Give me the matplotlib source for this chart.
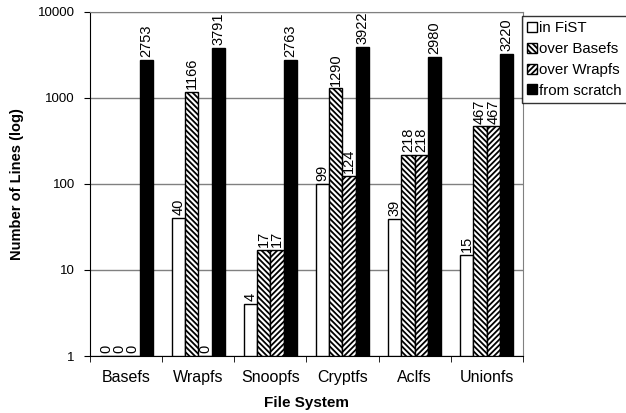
import numpy as np
import matplotlib.pyplot as plt

plt.rcParams['font.family'] = ['Liberation Sans', 'DejaVu Sans']
plt.rcParams['hatch.linewidth'] = 1.3

systems = ['Basefs', 'Wrapfs', 'Snoopfs', 'Cryptfs', 'Aclfs', 'Unionfs']
in_fist = [0, 40, 4, 99, 39, 15]
over_basefs = [0, 1166, 17, 1290, 218, 467]
over_wrapfs = [0, 0, 17, 124, 218, 467]
from_scratch = [2753, 3791, 2763, 3922, 2980, 3220]

series = [
    ('in FiST', in_fist, 'white', ''),
    ('over Basefs', over_basefs, 'white', '\\' * 6),
    ('over Wrapfs', over_wrapfs, 'white', '/' * 6),
    ('from scratch', from_scratch, 'black', ''),
]

fig = plt.figure(figsize=(6.26, 4.13), dpi=100)
ax = fig.add_axes([0.144, 0.138, 0.691, 0.833])

x = np.arange(len(systems))
w = 0.185
for i, (name, vals, col, hatch) in enumerate(series):
    pos = x + (i - 1.5) * w
    heights = [max(v, 1) - 1 for v in vals]
    ax.bar(pos, heights, w, bottom=1, color=col, edgecolor='black',
           hatch=hatch, linewidth=1, label=name, zorder=3)
    for p, v in zip(pos, vals):
        ax.text(p, max(v, 1) * 1.08, str(v), rotation=90, ha='center',
                va='bottom', fontsize=10.5, zorder=4)

ax.set_yscale('log')
ax.set_ylim(1, 10000)
ax.set_xlim(-0.5, len(systems) - 0.5)
ax.set_yticks([1, 10, 100, 1000, 10000])
ax.set_yticklabels(['1', '10', '100', '1000', '10000'], fontsize=9.5)
ax.minorticks_off()
ax.set_xticks(x)
ax.set_xticklabels(systems, fontsize=11.5)
ax.tick_params(axis='x', length=0, pad=10)
ax.set_xticks(np.arange(len(systems) + 1) - 0.5, minor=True)
ax.tick_params(axis='x', which='minor', length=4, direction='out')
ax.tick_params(axis='y', length=4, direction='out', pad=7)
ax.yaxis.grid(True, color='#808080', linewidth=1, zorder=0)
ax.spines['top'].set_color('#808080')
ax.spines['right'].set_color('#808080')
ax.set_xlabel('File System', fontsize=11, fontweight='bold', labelpad=8)
ax.set_ylabel('Number of Lines (log)', fontsize=10.5, fontweight='bold', labelpad=10)

leg = ax.legend(loc='upper left', bbox_to_anchor=(0.998, 0.988), fontsize=10.8,
                frameon=True, fancybox=False, edgecolor='black',
                handlelength=0.65, handleheight=0.65, handletextpad=0.15,
                borderpad=0.35, labelspacing=0.45, borderaxespad=0)
leg.get_frame().set_linewidth(1)

fig.savefig('out.png', dpi=100)
